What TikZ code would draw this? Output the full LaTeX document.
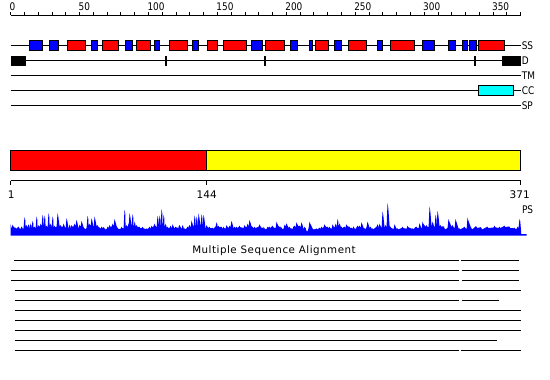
\documentclass[tikz,border=0pt]{standalone}
\usepackage{fontspec}
\setmainfont{DejaVu Sans}
\newfontfamily\labfont[FakeStretch=0.85]{DejaVu Sans}
\newfontfamily\msafont[LetterSpace=5]{DejaVu Sans}
\usepackage{tikz}
\usepackage{xcolor}
\definecolor{helix}{rgb}{1, 0, 0}
\definecolor{strand}{rgb}{0, 0, 1}
\definecolor{coiled}{rgb}{0, 1, 1}
\definecolor{domA}{rgb}{1, 0, 0}
\definecolor{domB}{rgb}{1, 1, 0}
\definecolor{psblue}{rgb}{0, 0, 1}

\begin{document}
\begin{tikzpicture}[x = 1pt, y = -1pt, line width = 1pt,
	tracklab/.style = {anchor = west, inner sep = 0.6pt, font = \fontsize{10.5}{12}\labfont},
	rulelab/.style = {anchor = base west, inner sep = 0pt, font = \fontsize{10.5}{12}\labfont},
	axislab/.style = {anchor = north, inner sep = 0pt, font = \fontsize{10.5}{12}\selectfont},
	sse/.style = {draw = black, line width = 0.9pt}]

	\useasboundingbox (0,0) rectangle (550,380);

	% ruler
	\draw 			(10.7,15) -- (520.7,15);
	\foreach \i in {0,10,...,370}
		\draw 		(10.7+1.3784*\i,15) -- ++(0,-2.6);
	\foreach \i in {0,50,...,350}
		\node [rulelab] (r\i) at (9.2+1.3784*\i,10) {\i};

	% tracks
	\node [tracklab] (ss) at (520.7,45.3) {SS};
	\node [tracklab] (dis) at (520.7,60.7) {D};
	\node [tracklab] (tm) at (520.7,75.7) {TM};
	\node [tracklab] (cc) at (520.7,90.3) {CC};
	\node [tracklab] (sp) at (520.7,105.3) {SP};

	\draw 			(10.7,45.3) -- (ss.west);
	\draw 			(10.7,60.7) -- (dis.west);
	\draw 			(10.7,75.7) -- (tm.west);
	\draw 			(10.7,90.3) -- (cc.west);
	\draw 			(10.7,105.3) -- (sp.west);

	\foreach \a/\b/\c in {29.3/42.7/strand, 49.3/58.7/strand, 67.3/85.7/helix, 91.3/97.7/strand,
			102.3/118.3/helix, 125.3/132.7/strand, 136.3/150.7/helix, 154.3/159.7/strand,
			169.3/187.3/helix, 192.3/198.7/strand, 207.3/217.7/helix, 223.3/246.7/helix,
			251.3/262.7/strand, 265.3/284.3/helix, 290.3/297.7/strand, 309.3/312.7/strand,
			315.3/328.3/helix, 334.3/341.7/strand, 348.3/366.7/helix, 377.3/382.7/strand,
			390.3/414.3/helix, 422.3/434.3/strand, 448.3/455.3/strand, 462.3/467/strand,
			469.3/476.7/strand, 478.3/504.3/helix}
		\filldraw [sse, fill = \c] (\a,40.3) rectangle (\b,50.7);

	\fill 			(10.7,55.7) rectangle (26,65.7);
	\fill 			(502,55.7) rectangle (520.7,65.7);
	\foreach \x in {166,265,475}
		\draw [line width = 2pt] (\x,56) -- (\x,66);

	\filldraw [sse, fill = coiled] (478.3,85.3) rectangle (513.7,95.3);

	% domains
	\filldraw [sse, fill = domA] (10.7,150) rectangle (206.7,170.7);
	\filldraw [sse, fill = domB] (206.7,150) rectangle (520.7,170.7);

	\draw 			(10.7,180.7) -- (520.7,180.7);
	\foreach \x in {10.7,206.7,520.7}
		\draw 		(\x,180.7) -- (\x,185);
	\node [axislab] (d1) at (11.3,190) {1};
	\node [axislab] (d144) at (206.7,190) {144};
	\node [axislab] (d371) at (519.7,190) {371};

	% ps profile
	\pgfmathsetseed{7}
	\fill [psblue] 	(10.7,235.7) -- (10.7,224.3)
		\foreach \x/\h in {13/11, 16/8, 20/7.4, 23/7.5, 25/18.4, 27/10.7, 29/11.4, 31/12, 33/14.7,
			35/9, 37/19, 39/10.7, 41/12, 43/20.7, 45/20, 47/10, 49/22.4, 51/12, 53/19, 55/10,
			58/22.4, 61/10.7, 64/12, 67/17.4, 70/11, 72/10.7, 75/12, 77/15.7, 80/11, 82/14.7,
			85/7.4, 88/19.7, 90/12, 92/17.4, 95/19, 98/10.7, 102/9, 105/7.4, 108/9, 110/10.7,
			113/12, 115/16.7, 118/8, 122/9, 125/25.7, 127/10.7, 129/12, 130/22.4, 133/21.4,
			135/14, 137/10.7, 140/9, 143/9, 147/7.4, 150/9, 152/10, 155/12, 158/19.7, 160/20,
			162/26.4, 164/20.7, 166/12, 168/9, 171/10, 173/11.4, 176/9, 178/8, 180/10.7,
			183/10.7, 185/7.4, 188/9, 190/10.7, 192/15, 195/20, 197/19, 199/22, 202/21.4,
			204/20.7, 207/10.7, 210/9, 213/8, 217/13.4, 219/10, 222/9, 224/9, 227/10.7, 230/10,
			232/14.7, 235/9, 237/9, 240/10, 245/10.7, 248/12, 250/15.7, 253/9, 255/9, 260/11.4,
			263/8, 265/7.4, 268/9, 270/9, 273/10, 277/14, 280/9, 282/8, 285/11, 287/12.4,
			290/9, 292/7.4, 295/10, 297/13.4, 300/10, 302/13.4, 305/9, 307/4.7, 310/14,
			313/7.4, 317/7.4, 320/8, 322/9, 325/11.4, 328/9, 330/9, 333/11.4, 336/12, 338/16.7,
			340/12.4, 342/9, 345/9, 347/11.4, 350/9, 352/8, 355/7.4, 358/10, 360/10, 362/13.4,
			365/7.4, 368/14, 371/9, 373/7.4, 378/11.4, 380/12, 383/24, 386/10.7, 388/32.4,
			391/9, 395/11.4, 398/7.4, 403/9, 408/10, 413/7.4, 417/9, 420/12.4, 423/14,
			427/10.7, 430/29, 433/14, 436/20.7, 438/24.7, 441/10.7, 445/7.4, 449/16.7,
			453/10.7, 456/16.7, 460/7.4, 465/9, 468/18, 472/7.4, 477/9, 482/7.4, 488/9,
			495/10, 500/9, 505/10, 510/9, 515/8, 518/9, 520/16.7}
		{ -- ({\x-1.4},{235.7-6.5-3*rnd}) -- (\x-0.5,235.7-\h) -- (\x+0.3,{235.7-0.85*\h}) }
		-- (521.3,234.2) -- (526.7,234.2) -- (526.7,235.7) -- cycle;
	\node [tracklab] (ps) at (521,210) {PS};

	% alignment
	\node [inner sep = 0pt, font = \fontsize{10.3}{12}\msafont] (msa) at (274,250.7) {Multiple Sequence Alignment};
	\foreach \y/\a/\b in {260.7/14/459.3, 260.7/460.7/518.7, 270.7/11/459.3, 270.7/462.3/518.7,
			280.7/11/459.3, 280.7/462.3/518.7, 290.7/14.7/520.7, 300.7/14.7/459.3,
			300.7/462.3/498.7, 310.7/14.7/520.7, 320.7/14.7/520.7, 330.7/14.7/520.7,
			340.7/14.7/496.7, 350.7/14.7/459.3, 350.7/460.7/520.7}
		\draw 		(\a,\y) -- (\b,\y);

\end{tikzpicture}
\end{document}
